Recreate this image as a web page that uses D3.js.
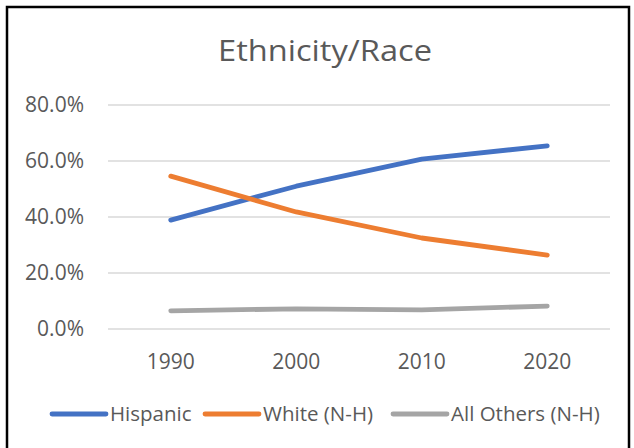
<!DOCTYPE html>
<html><head><meta charset="utf-8">
<script src="https://cdn.jsdelivr.net/npm/d3@7"></script>
<style>body{margin:0;background:#fff}svg{display:block}</style>
</head><body>
<script>
const categories = ["1990","2000","2010","2020"];
const hispanic = [38.9, 51.0, 60.7, 65.4];
const white = [54.6, 41.8, 32.5, 26.4];
const others = [6.5, 7.2, 6.8, 8.2];
const yTicks = [0, 20, 40, 60, 80];
const seriesNames = ["Hispanic", "White (N-H)", "All Others (N-H)"];
const seriesColors = ["#4472C4", "#ED7D31", "#A5A5A5"];
const title = "Ethnicity/Race";

const W = 634, H = 448;
const font = "'Open Sans', 'Liberation Sans', sans-serif";
const svg = d3.select("body").append("svg").attr("width", W).attr("height", H);
svg.append("rect").attr("width", W).attr("height", H).attr("fill", "#fff");
// chart border
svg.append("rect").attr("x", 7).attr("y", 7).attr("width", 622).attr("height", 450)
  .attr("fill", "none").attr("stroke", "#000").attr("stroke-width", 2.5);

const x = d3.scaleBand().domain(categories).range([108, 610]);
const y = d3.scaleLinear().domain([0, 80]).range([329, 105]);

svg.append("text").attr("x", 325).attr("y", 61).attr("text-anchor", "middle")
  .attr("font-family", font).attr("font-size", 29.5).attr("fill", "#595959")
  .attr("textLength", 214).attr("lengthAdjust", "spacingAndGlyphs").text(title);

// gridlines
svg.append("g").selectAll("line").data(yTicks).join("line")
  .attr("x1", 108).attr("x2", 610)
  .attr("y1", d => y(d)).attr("y2", d => y(d))
  .attr("stroke", "#D9D9D9").attr("stroke-width", 1.3);

// y axis labels
const yAxis = d3.axisLeft(y).tickValues(yTicks).tickSize(0).tickPadding(0)
  .tickFormat(d => d.toFixed(1) + "%");
const yg = svg.append("g").attr("transform", "translate(84,0)").call(yAxis);
yg.select(".domain").remove();
yg.selectAll("text").attr("font-family", font).attr("font-size", 21).attr("fill", "#595959");

// x axis labels
const xAxis = d3.axisBottom(x).tickSize(0).tickPadding(0);
const xg = svg.append("g").attr("transform", "translate(0,348)").call(xAxis);
xg.select(".domain").remove();
xg.selectAll("text").attr("font-family", font).attr("font-size", 21).attr("fill", "#595959")
  .attr("dy", null).attr("y", 20.5);

const data = [hispanic, white, others];
const line = d3.line().x((d, i) => x(categories[i]) + x.bandwidth() / 2).y(d => y(d));
data.forEach((s, k) => {
  svg.append("path").attr("d", line(s)).attr("fill", "none")
    .attr("stroke", seriesColors[k]).attr("stroke-width", 4.8)
    .attr("stroke-linecap", "round").attr("stroke-linejoin", "round");
});

// legend
const legendX = [52, 205, 393];
const lg = svg.append("g");
seriesNames.forEach((n, k) => {
  lg.append("line").attr("x1", legendX[k]).attr("x2", legendX[k] + 54)
    .attr("y1", 414).attr("y2", 414).attr("stroke", seriesColors[k])
    .attr("stroke-width", 4.8).attr("stroke-linecap", "round");
  lg.append("text").attr("x", legendX[k] + 58).attr("y", 421)
    .attr("font-family", font).attr("font-size", 20.5).attr("fill", "#595959").text(n);
});
</script>
</body></html>
